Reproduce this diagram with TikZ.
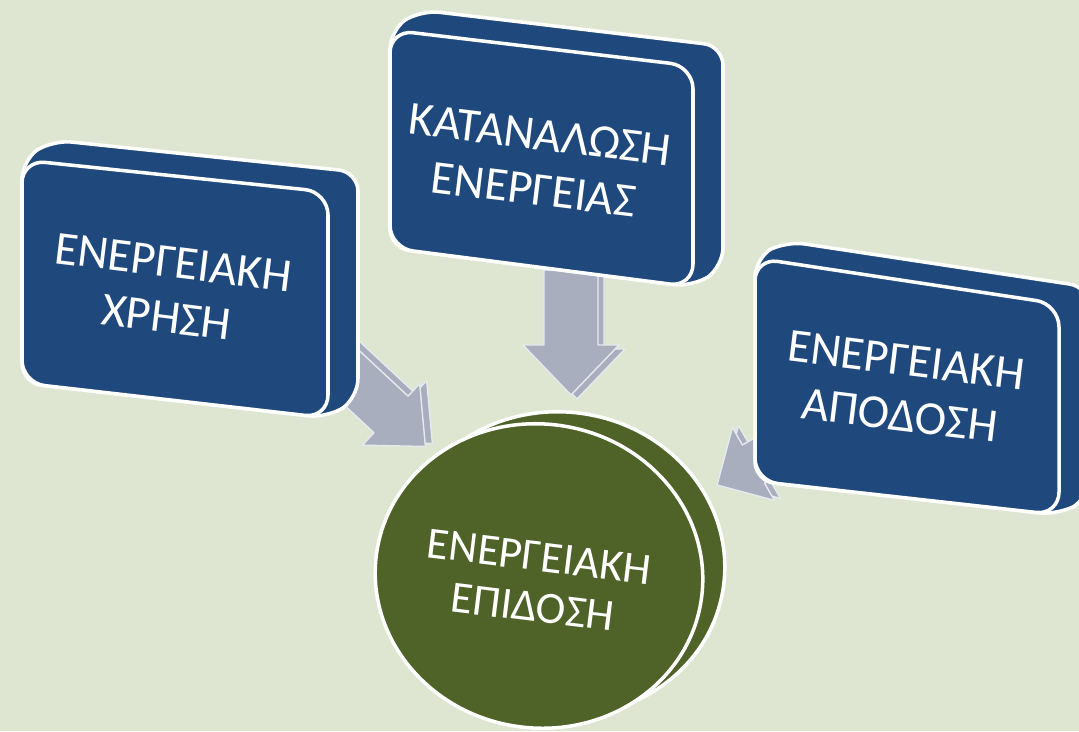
\documentclass[tikz,border=0pt]{standalone}
\usepackage{fontspec}
\setmainfont{Carlito}
\definecolor{bg}{HTML}{DEE6D2}
\definecolor{boxblue}{HTML}{1F497D}
\definecolor{diskgreen}{HTML}{4F6228}
\definecolor{arrowgray}{HTML}{A9AEBE}
\definecolor{arrowedge}{HTML}{E6E9EE}
\newcommand{\fatarrowpath}[4]{(0,-#2) -- (#1-#4,-#2) -- (#1-#4,-#3) -- (#1,0) -- (#1-#4,#3) -- (#1-#4,#2) -- (0,#2) -- cycle}
\tikzset{
  arrowbody/.style={fill=arrowgray, draw=arrowedge, line width=0.8pt, line join=round},
  boxside/.style={fill=boxblue, draw=white, line width=2pt, rounded corners=11pt},
  boxfront/.style={fill=boxblue, draw=white, line width=2pt, rounded corners=13pt},
  disk/.style={fill=diskgreen, draw=white, line width=2pt},
  label/.style={text=white, align=center, rotate=-7, font=\fontsize{27}{31.5}\selectfont},
  disklabel/.style={text=white, align=center, rotate=-7, font=\fontsize{25.5}{29}\selectfont}
}
\begin{document}
\begin{tikzpicture}[x=0.02cm, y=-0.02cm]
\fill[bg] (0,0) rectangle (1079,731);
\useasboundingbox (0,0) rectangle (1079,731);
% arrows (behind boxes)
% arrow from box 1
\begin{scope}[shift={(330,348)}, rotate=-43]
  \path[arrowbody] \fatarrowpath{140}{25}{42}{47};
\end{scope}
\begin{scope}[shift={(323,351)}, rotate=-43]
  \path[arrowbody] \fatarrowpath{140}{25}{42}{47};
\end{scope}
% arrow from box 2
\begin{scope}[shift={(577,274)}, rotate=-90]
  \path[arrowbody] \fatarrowpath{125}{27}{48}{50};
\end{scope}
\begin{scope}[shift={(571,270)}, rotate=-90]
  \path[arrowbody] \fatarrowpath{125}{27}{48}{50};
\end{scope}
% arrow from box 3
\begin{scope}[shift={(827,423)}, rotate=-150]
  \path[arrowbody] \fatarrowpath{120}{22}{42}{42};
\end{scope}
\begin{scope}[shift={(821,425)}, rotate=-150]
  \path[arrowbody] \fatarrowpath{120}{22}{42}{42};
\end{scope}
% box 1
\path[boxside] (22,160) -- (52,140) -- (358,172) -- (358,398) -- (328,418) -- (22,383) -- cycle;
\path[boxfront] (22,160) -- (328,192) -- (328,418) -- (22,383) -- cycle;
% box 2
\path[boxside] (390,30) -- (420,10) -- (723,46) -- (723,267) -- (693,287) -- (390,248) -- cycle;
\path[boxfront] (390,30) -- (693,66) -- (693,287) -- (390,248) -- cycle;
% box 3
\path[boxside] (755,258) -- (785,241) -- (1089,287) -- (1089,498) -- (1059,515) -- (755,481) -- cycle;
\path[boxfront] (755,258) -- (1059,304) -- (1059,515) -- (755,481) -- cycle;
% disk
\begin{scope}[shift={(561,564)}, rotate=-8]
  \path[disk] (0,0) ellipse [x radius=164, y radius=152];
\end{scope}
\begin{scope}[shift={(539,576)}, rotate=-8]
  \path[disk] (0,0) ellipse [x radius=164, y radius=152];
\end{scope}
% texts
\node[label] (use) at (170,290) {ΕΝΕΡΓΕΙΑΚΗ\\ΧΡΗΣΗ};
\node[label] (cons) at (537,162) {ΚΑΤΑΝΑΛΩΣΗ\\ΕΝΕΡΓΕΙΑΣ};
\node[label] (eff) at (903,388) {ΕΝΕΡΓΕΙΑΚΗ\\ΑΠΟΔΟΣΗ};
\node[disklabel] (perf) at (536,582) {ΕΝΕΡΓΕΙΑΚΗ\\ΕΠΙΔΟΣΗ};
\end{tikzpicture}
\end{document}
